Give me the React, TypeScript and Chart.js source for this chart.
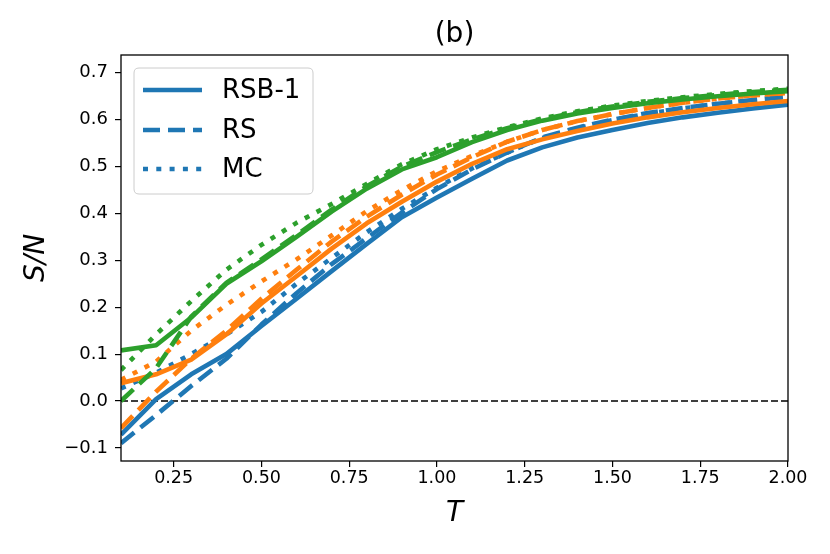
import React, { useEffect, useRef } from "react";
import { Chart, registerables } from "chart.js";

Chart.register(...registerables);

const T = [0.1, 0.2, 0.3, 0.4, 0.5, 0.6, 0.7, 0.8, 0.9, 1.0, 1.1, 1.2, 1.3, 1.4, 1.5, 1.6, 1.7, 1.8, 1.9, 2.0];

const blueRSB = [-0.072, 0.004, 0.057, 0.1, 0.16, 0.218, 0.277, 0.335, 0.392, 0.434, 0.474, 0.513, 0.541, 0.562, 0.578, 0.593, 0.605, 0.615, 0.624, 0.632];
const blueRS = [-0.09, -0.03, 0.032, 0.09, 0.163, 0.23, 0.292, 0.347, 0.402, 0.452, 0.494, 0.53, 0.562, 0.583, 0.6, 0.614, 0.625, 0.634, 0.642, 0.649];
const blueMC = [0.027, 0.06, 0.1, 0.142, 0.19, 0.25, 0.305, 0.36, 0.41, 0.455, 0.496, 0.53, 0.561, 0.582, 0.599, 0.613, 0.624, 0.634, 0.642, 0.649];

const orangeRSB = [0.038, 0.057, 0.088, 0.142, 0.208, 0.266, 0.325, 0.379, 0.425, 0.468, 0.506, 0.537, 0.558, 0.576, 0.592, 0.605, 0.616, 0.625, 0.633, 0.64];
const orangeRS = [-0.058, 0.02, 0.09, 0.15, 0.218, 0.28, 0.34, 0.393, 0.44, 0.483, 0.52, 0.553, 0.578, 0.597, 0.612, 0.625, 0.636, 0.645, 0.652, 0.657];
const orangeMC = [0.045, 0.084, 0.15, 0.205, 0.255, 0.302, 0.353, 0.405, 0.45, 0.49, 0.523, 0.553, 0.578, 0.597, 0.612, 0.625, 0.636, 0.645, 0.652, 0.657];

const greenRSB = [0.108, 0.119, 0.178, 0.25, 0.298, 0.35, 0.404, 0.453, 0.494, 0.52, 0.552, 0.578, 0.598, 0.613, 0.625, 0.635, 0.643, 0.65, 0.656, 0.661];
const greenRS = [0.0, 0.07, 0.18, 0.252, 0.302, 0.354, 0.408, 0.458, 0.5, 0.531, 0.558, 0.582, 0.601, 0.616, 0.628, 0.638, 0.646, 0.653, 0.659, 0.664];
const greenMC = [0.066, 0.142, 0.213, 0.28, 0.333, 0.38, 0.42, 0.463, 0.505, 0.537, 0.562, 0.584, 0.603, 0.618, 0.63, 0.64, 0.648, 0.655, 0.661, 0.666];

const zeroLineX = [0.1, 2.0];
const zeroLineY = [0, 0];

const xTicks = [0.25, 0.5, 0.75, 1.0, 1.25, 1.5, 1.75, 2.0];
const yTicks = [-0.1, 0.0, 0.1, 0.2, 0.3, 0.4, 0.5, 0.6, 0.7];

const legendLabels = ["RSB-1", "RS", "MC"];
const titleText = "(b)";
const xTitle = "T";
const yTitle = "S/N";

const BLUE = "#1f77b4";
const ORANGE = "#ff7f0e";
const GREEN = "#2ca02c";
const FONT = "'DejaVu Sans', sans-serif";
const LW = 4.6;
const DASH = [17, 8];
const DOT = [5, 8.3];

const pts = (xs: number[], ys: number[]) => xs.map((x, i) => ({ x, y: ys[i] }));

const frameAndLegend = {
  id: "frameAndLegend",
  afterDraw(chart: any) {
    const { ctx, chartArea } = chart;
    const { left, top, right, bottom } = chartArea;
    ctx.save();
    ctx.strokeStyle = "#000";
    ctx.lineWidth = 1.3;
    ctx.setLineDash([]);
    ctx.strokeRect(left, top, right - left, bottom - top);

    // title
    ctx.font = `28px ${FONT}`;
    ctx.fillStyle = "#000";
    ctx.textAlign = "center";
    ctx.textBaseline = "middle";
    ctx.fillText(titleText, (left + right) / 2, 35);

    // legend
    const bx = left + 13;
    const by = top + 13;
    const bw = 179;
    const bh = 126;
    const r = 5;
    ctx.beginPath();
    ctx.moveTo(bx + r, by);
    ctx.lineTo(bx + bw - r, by);
    ctx.quadraticCurveTo(bx + bw, by, bx + bw, by + r);
    ctx.lineTo(bx + bw, by + bh - r);
    ctx.quadraticCurveTo(bx + bw, by + bh, bx + bw - r, by + bh);
    ctx.lineTo(bx + r, by + bh);
    ctx.quadraticCurveTo(bx, by + bh, bx, by + bh - r);
    ctx.lineTo(bx, by + r);
    ctx.quadraticCurveTo(bx, by, bx + r, by);
    ctx.closePath();
    ctx.fillStyle = "rgba(255,255,255,0.8)";
    ctx.fill();
    ctx.strokeStyle = "#cccccc";
    ctx.lineWidth = 1;
    ctx.stroke();

    const dashes = [[], DASH, DOT];
    const rowY = [by + 22, by + 62, by + 101];
    ctx.font = `26px ${FONT}`;
    ctx.textBaseline = "middle";
    ctx.textAlign = "left";
    for (let i = 0; i < 3; i++) {
      ctx.beginPath();
      ctx.setLineDash(dashes[i] as number[]);
      ctx.lineCap = "butt";
      ctx.strokeStyle = BLUE;
      ctx.lineWidth = LW;
      ctx.moveTo(bx + 9, rowY[i]);
      ctx.lineTo(bx + 68, rowY[i]);
      ctx.stroke();
      ctx.setLineDash([]);
      ctx.fillStyle = "#000";
      ctx.fillText(legendLabels[i], bx + 88, rowY[i] + 1);
    }
    ctx.restore();
  },
};

function mk(label: string, color: string, ys: number[], dash: number[]) {
  return {
    label,
    data: pts(T, ys),
    borderColor: color,
    backgroundColor: color,
    borderWidth: LW,
    borderDash: dash,
    borderCapStyle: "butt",
    borderJoinStyle: "round",
    pointRadius: 0,
    pointHoverRadius: 0,
    fill: false,
    tension: 0,
    clip: 0,
  };
}

export default function App() {
  const ref = useRef<HTMLCanvasElement | null>(null);
  useEffect(() => {
    document.body.style.margin = "0";
    if (!ref.current) return;
    const datasets: any[] = [
      mk("G MC", GREEN, greenMC, DOT),
      mk("G RS", GREEN, greenRS, DASH),
      mk("G RSB-1", GREEN, greenRSB, []),
      mk("O MC", ORANGE, orangeMC, DOT),
      mk("O RS", ORANGE, orangeRS, DASH),
      mk("O RSB-1", ORANGE, orangeRSB, []),
      mk("B MC", BLUE, blueMC, DOT),
      mk("B RS", BLUE, blueRS, DASH),
      mk("B RSB-1", BLUE, blueRSB, []),
      {
        label: "zero",
        data: pts(zeroLineX, zeroLineY),
        borderColor: "#000",
        borderWidth: 1.5,
        borderDash: [7, 3],
        pointRadius: 0,
        fill: false,
        clip: 0,
      },
    ];
    const chart = new Chart(ref.current, {
      type: "line",
      data: { datasets },
      options: {
        animation: false,
        responsive: false,
        devicePixelRatio: 1,
        layout: { padding: { top: 55, left: 0, right: 42, bottom: 0 } },
        plugins: {
          legend: { display: false },
          tooltip: { enabled: false },
          title: { display: false },
        },
        scales: {
          x: {
            type: "linear",
            min: 0.1,
            max: 2.0,
            afterBuildTicks: (s: any) => {
              s.ticks = xTicks.map((v) => ({ value: v }));
            },
            afterFit: (s: any) => {
              s.height = 93;
              s.paddingLeft = 0;
              s.paddingRight = 0;
              s.paddingTop = 0;
              s.paddingBottom = 0;
            },
            ticks: {
              autoSkip: false,
              maxRotation: 0,
              color: "#000",
              padding: 1,
              font: { family: FONT, size: 17.5 },
              callback: (v: any) => Number(v).toFixed(2),
            },
            grid: {
              display: true,
              drawOnChartArea: false,
              drawTicks: true,
              tickLength: 6,
              color: "#000",
              lineWidth: 1.2,
            },
            border: { display: false },
            title: {
              display: true,
              text: xTitle,
              color: "#000",
              font: { family: FONT, size: 28, style: "italic" },
              padding: { top: 0, bottom: 23 },
            },
          },
          y: {
            type: "linear",
            min: -0.128,
            max: 0.738,
            afterBuildTicks: (s: any) => {
              s.ticks = yTicks.map((v) => ({ value: v }));
            },
            afterFit: (s: any) => {
              s.width = 121;
              s.paddingLeft = 0;
              s.paddingRight = 0;
              s.paddingTop = 0;
              s.paddingBottom = 0;
            },
            ticks: {
              autoSkip: false,
              color: "#000",
              padding: 7,
              font: { family: FONT, size: 18 },
              callback: (v: any) => Number(v).toFixed(1).replace("-", "\u2212"),
            },
            grid: {
              display: true,
              drawOnChartArea: false,
              drawTicks: true,
              tickLength: 6,
              color: "#000",
              lineWidth: 1.2,
            },
            border: { display: false },
            title: {
              display: true,
              text: yTitle,
              color: "#000",
              font: { family: FONT, size: 28, style: "italic" },
              padding: { top: 20, bottom: 0 },
            },
          },
        },
      },
      plugins: [frameAndLegend],
    } as any);
    return () => chart.destroy();
  }, []);
  return (
    <div style={{ width: 830, height: 554, background: "#fff" }}>
      <canvas ref={ref} width={830} height={554} style={{ display: "block" }} />
    </div>
  );
}
